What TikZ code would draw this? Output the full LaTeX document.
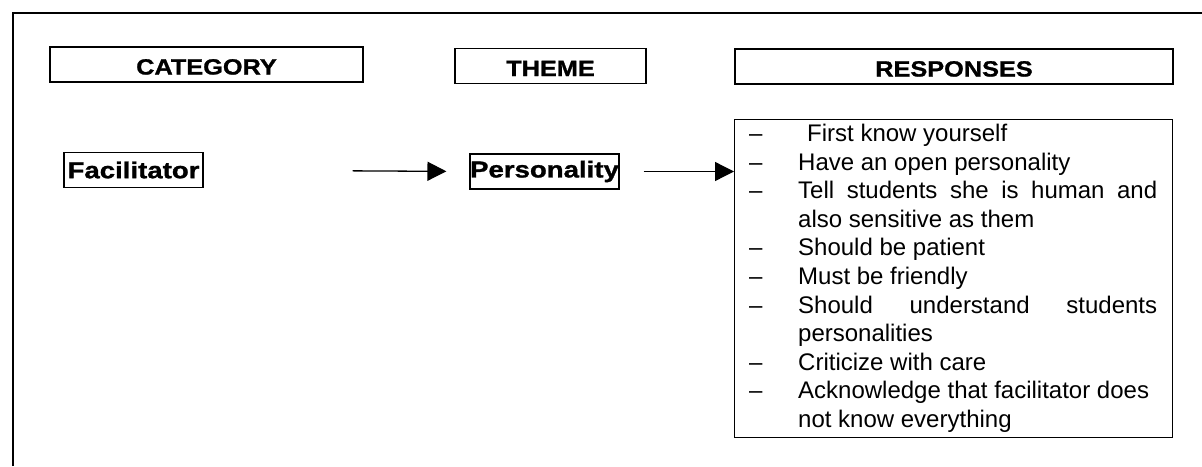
\documentclass[tikz,border=0pt]{standalone}
\usepackage{fontspec}
\setmainfont{Liberation Sans}
\newfontfamily\headfont[FakeStretch=1.15,FakeBold=1.2]{Liberation Sans}
\newfontfamily\termfont[FakeStretch=1.2,FakeBold=1.2]{Liberation Sans}
\usetikzlibrary{arrows.meta}
\begin{document}
\begin{tikzpicture}[x=1pt,y=1pt,
  frame/.style={line width=1.2pt},
  boxed/.style={draw, line width=1.1pt, inner sep=0pt},
  headbox/.style={boxed, minimum height=35pt, text height=20pt, text depth=0pt,
    font=\headfont\bfseries\fontsize{22}{26}\selectfont},
  termbox/.style={boxed, minimum height=35pt,
    font=\termfont\bfseries\fontsize{23}{27}\selectfont},
  link/.style={line width=1.3pt, -{Triangle[length=19pt,width=19pt]}}
]
\useasboundingbox (0,0) rectangle (1202,-466);

% open frame: top and left rules only
\draw[frame] (13,-466) -- (13,-13) -- (1202,-13);

% column headings
\node[headbox, minimum width=313pt] (cat)  at (206.5,-64.5) {CATEGORY};
\node[headbox, minimum width=191pt] (thm)  at (550.5,-66)   {THEME};
\node[headbox, minimum width=438pt] (rsp)  at (954,-66.5)   {RESPONSES};

% category and theme
\node[termbox, minimum width=139pt] (facil) at (133.5,-170)  {Facilitator};
\node[termbox, minimum width=149pt] (pers)  at (544.5,-171.5) {Personality};

% responses box and its list
\node[boxed, anchor=north west, minimum width=438pt, minimum height=318pt] (resp) at (734,-119) {};
\node[anchor=base west, inner sep=0pt, font=\fontsize{24}{28.6}\selectfont] (resptext) at (749,-141.5) {%
\begin{tabular}[t]{@{}p{49pt}@{}l@{}}
-- & \hspace{9pt}First know yourself\\
-- & Have an open personality\\
-- & \makebox[359pt][s]{Tell students she is human and}\\
   & also sensitive as them\\
-- & Should be patient\\
-- & Must be friendly\\
-- & \makebox[359pt][s]{Should understand students}\\
   & personalities\\
-- & Criticize with care\\
-- & Acknowledge that facilitator does\\
   & not know everything
\end{tabular}};

% connectors
\draw[link, shorten <=149pt, shorten >=23pt] (facil.east) -- (pers.west);
\draw[link, shorten <=24pt] (pers.east) -- (pers.east -| resp.west);
\end{tikzpicture}
\end{document}
